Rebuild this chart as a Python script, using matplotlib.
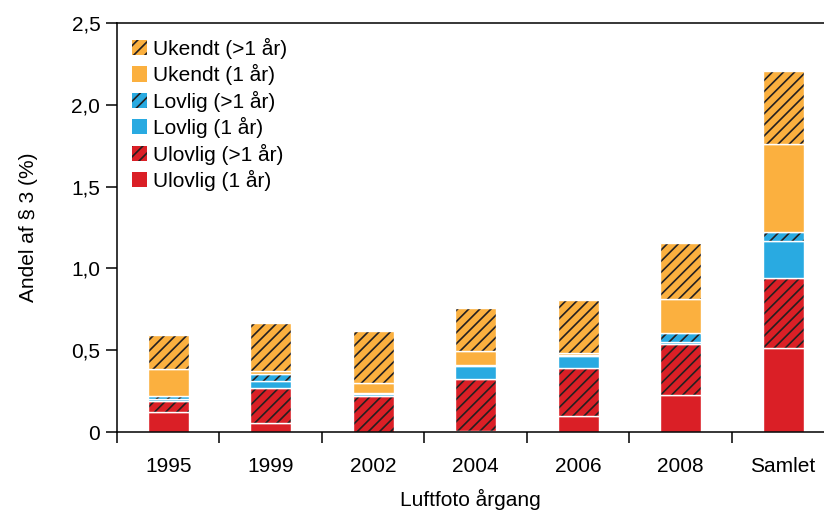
import numpy as np
import matplotlib
matplotlib.use("Agg")
import matplotlib.pyplot as plt
from matplotlib.ticker import FixedLocator, FuncFormatter

# data (share of § 3 area, %)
years = ['1995', '1999', '2002', '2004', '2006', '2008', 'Samlet']
ulovlig_1 = [0.120, 0.057, 0.000, 0.005, 0.096, 0.224, 0.513]
ulovlig_gt1 = [0.070, 0.214, 0.218, 0.319, 0.293, 0.312, 0.426]
lovlig_1 = [0.015, 0.041, 0.012, 0.079, 0.074, 0.016, 0.230]
lovlig_gt1 = [0.013, 0.041, 0.010, 0.005, 0.010, 0.055, 0.051]
ukendt_1 = [0.165, 0.018, 0.060, 0.085, 0.012, 0.206, 0.540]
ukendt_gt1 = [0.210, 0.293, 0.319, 0.263, 0.322, 0.340, 0.444]

labels = ['Ulovlig (1 år)', 'Ulovlig (>1 år)', 'Lovlig (1 år)',
          'Lovlig (>1 år)', 'Ukendt (1 år)', 'Ukendt (>1 år)']
series = [ulovlig_1, ulovlig_gt1, lovlig_1, lovlig_gt1, ukendt_1, ukendt_gt1]
colors = ['#DA1F26', '#DA1F26', '#29AAE1', '#29AAE1', '#FBB03F', '#FBB03F']
hatches = [None, '///', None, '///', None, '///']

plt.rcParams['font.family'] = ['Liberation Sans', 'DejaVu Sans']
plt.rcParams['hatch.linewidth'] = 1.2

fig = plt.figure(figsize=(8.24, 5.12), dpi=100)
ax = fig.add_axes([0.142, 0.156, 0.858, 0.799])

x = np.arange(len(years))
width = 0.4
bottom = np.zeros(len(years))
handles = []
for vals, lab, col, h in zip(series, labels, colors, hatches):
    vals = np.array(vals)
    bars = ax.bar(x, vals, width, bottom=bottom, color=col, hatch=h,
                  edgecolor='#231F20' if h else col, linewidth=0, label=lab)
    # thin white separators between segments
    ax.bar(x, vals, width, bottom=bottom, fill=False, edgecolor='white',
           linewidth=1.0)
    handles.append(bars)
    bottom += vals

ax.set_xlim(-0.5, 6.4)
ax.set_ylim(0, 2.5)

fs = 15
ax.xaxis.set_major_locator(FixedLocator(x))
ax.set_xticklabels(years)
ax.xaxis.set_minor_locator(FixedLocator(np.arange(-0.5, 6.6, 1)))
ax.tick_params(axis='x', which='major', length=0, pad=18, labelsize=fs)
ax.tick_params(axis='x', which='minor', length=8, width=1.1, direction='out')

ax.set_yticks([0, 0.5, 1.0, 1.5, 2.0, 2.5])
ax.yaxis.set_major_formatter(FuncFormatter(
    lambda v, p: '0' if v == 0 else f'{v:.1f}'.replace('.', ',')))
ax.tick_params(axis='y', length=8, width=1.1, pad=4, labelsize=fs)

for s in ['left', 'bottom', 'top']:
    ax.spines[s].set_linewidth(1.1)
ax.spines['right'].set_visible(False)

ax.set_ylabel('Andel af § 3 (%)', fontsize=fs, labelpad=24)
ax.set_xlabel('Luftfoto årgang', fontsize=fs, labelpad=9)

ax.legend(handles[::-1], labels[::-1], loc='upper left', frameon=False,
          fontsize=fs, handlelength=0.75, handleheight=0.75,
          handletextpad=0.3, labelspacing=0.26,
          bbox_to_anchor=(0.0, 1.0), borderaxespad=0.3)

fig.savefig('out.png', dpi=100)
